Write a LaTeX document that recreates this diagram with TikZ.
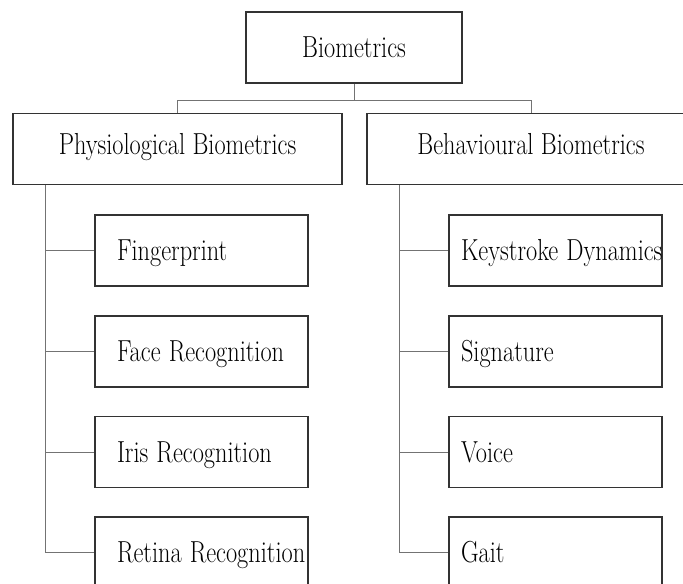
\documentclass[tikz,border=0pt]{standalone}
\usepackage{graphicx}
\usetikzlibrary{calc}

% narrow the text horizontally
\newcommand{\narrow}[1]{\scalebox{0.8}[1]{#1}}

\tikzset{
  box/.style={draw=black!80, line width=0.75pt, inner sep=0pt,
    font=\fontsize{15.2}{18}\selectfont},
  rootbox/.style={box, minimum width=108pt, minimum height=35.5pt,
    text height=10.35pt, text depth=0pt},
  groupbox/.style={box, minimum height=35.5pt,
    text height=10.35pt, text depth=5.35pt},
  leafbox/.style={box, text width=106.5pt, align=left, minimum height=35.5pt,
    text height=10.35pt, text depth=0pt},
  conn/.style={draw=black!55, line width=0.5pt}
}

\begin{document}
\begin{tikzpicture}[x=0.5pt, y=-0.5pt]
  \path[use as bounding box] (0,0) rectangle (683,583);
  \clip (0,0) rectangle (683,583);

  % top level
  \node[rootbox] (bio) at (354,47.5) {\narrow{Biometrics}};

  % the two groups
  \node[groupbox, minimum width=164.5pt] (phys) at (177.5,149) {\narrow{Physiological Biometrics}};
  \node[groupbox, minimum width=164pt] (behav) at (531,149) {\narrow{Behavioural Biometrics}};

  % physiological traits
  \node[leafbox] (fp)  at (201.5,250.5) {\hspace*{11pt}\narrow{Fingerprint}};
  \node[leafbox] (fr)  at (201.5,351.5) {\hspace*{11pt}\narrow{Face Recognition}};
  \node[leafbox] (ir)  at (201.5,452)   {\hspace*{11pt}\narrow{Iris Recognition}};
  \node[leafbox] (rr)  at (201.5,552.5) {\hspace*{11pt}\narrow{Retina Recognition}};

  % behavioural traits
  \node[leafbox] (ks)  at (555.5,250.5) {\hspace*{6pt}\narrow{Keystroke Dynamics}};
  \node[leafbox] (sg)  at (555.5,351.5) {\hspace*{6pt}\narrow{Signature}};
  \node[leafbox] (vo)  at (555.5,452)   {\hspace*{6pt}\narrow{Voice}};
  \node[leafbox] (ga)  at (555.5,552.5) {\hspace*{6pt}\narrow{Gait}};

  % root to groups
  \coordinate (split) at ($(bio.south)+(0,16.5)$);
  \draw[conn] (bio.south) -- (split) -| (phys.north);
  \draw[conn] (split) -| (behav.north);

  % group trunks
  \coordinate (ltrunk) at ($(phys.south west)+(33,0)$);
  \coordinate (rtrunk) at ($(behav.south west)+(33,0)$);
  \foreach \leaf in {fp,fr,ir,rr}
    \draw[conn] (ltrunk) |- (\leaf.west);
  \foreach \leaf in {ks,sg,vo,ga}
    \draw[conn] (rtrunk) |- (\leaf.west);
\end{tikzpicture}
\end{document}
